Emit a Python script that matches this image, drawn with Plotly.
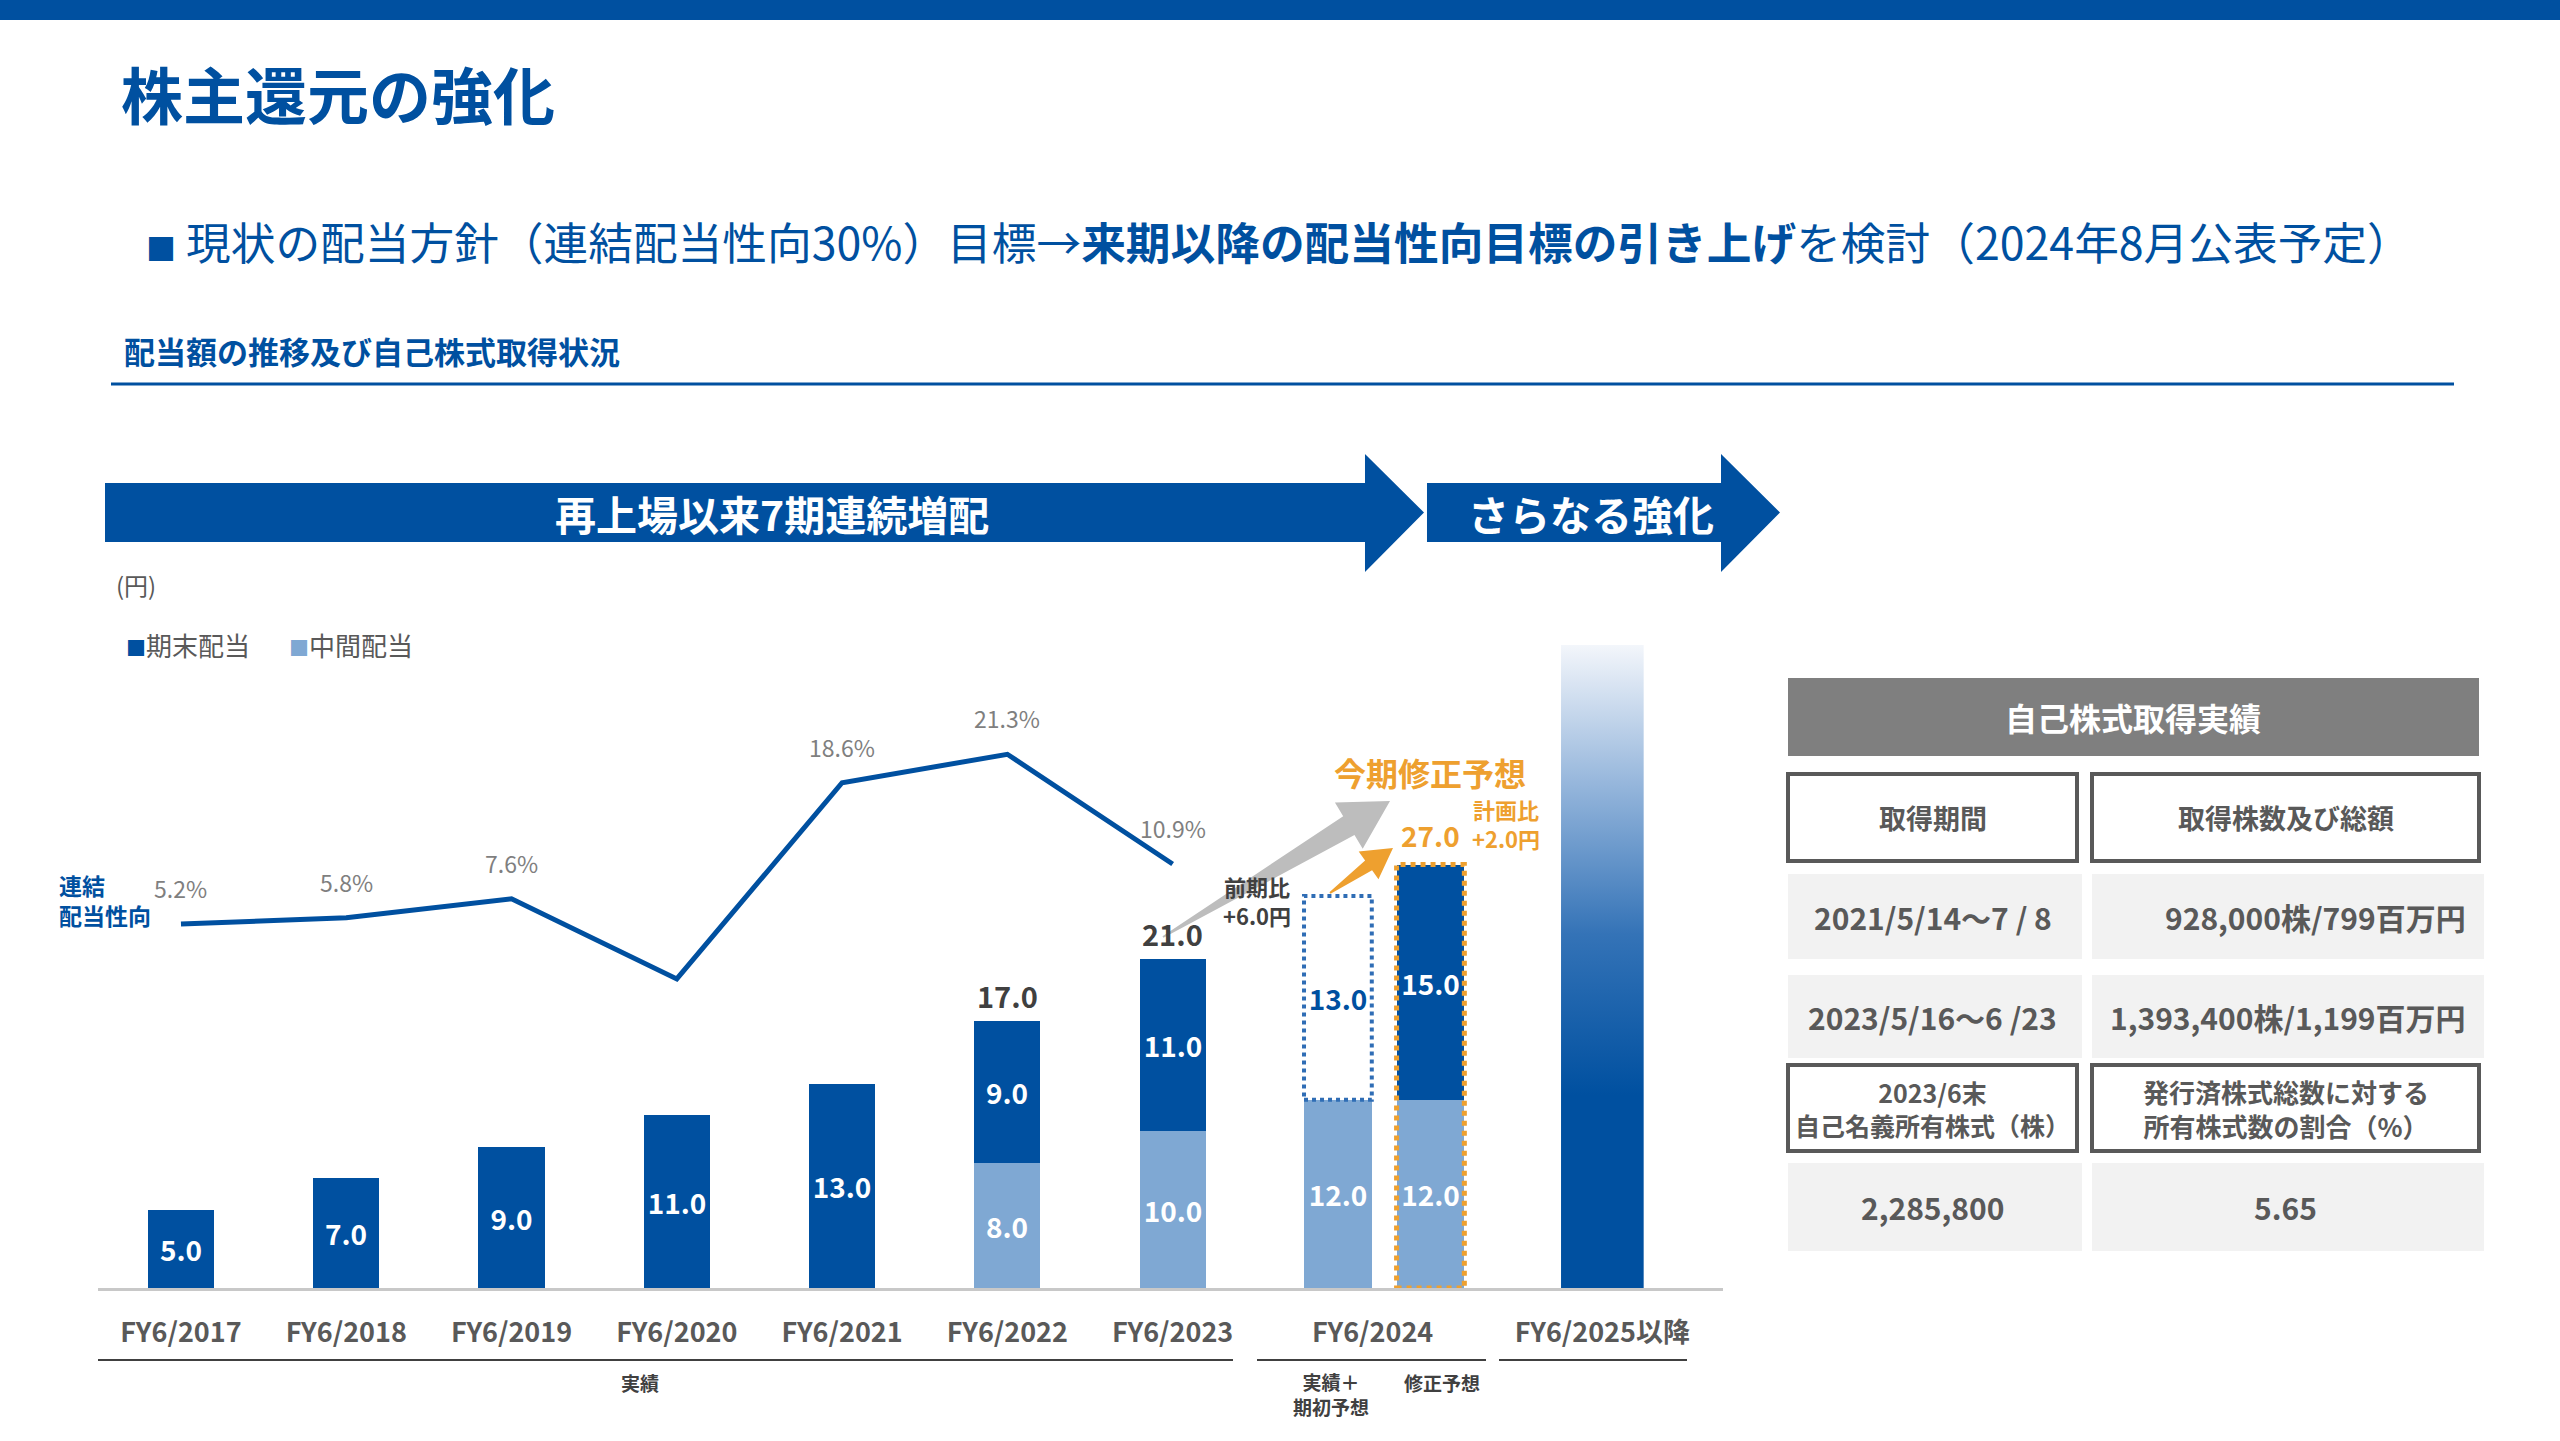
import math

import plotly.graph_objects as go

W, H = 2560, 1441
FONT = "Noto Sans CJK JP, Noto Sans, sans-serif"
BLUE = "#0050a0"
LIGHT = "#7fa8d3"
ORANGE = "#eea02f"
GRAY_TXT = "#595959"
DARK_TXT = "#404040"

# ---- data ----
years = ["FY6/2017", "FY6/2018", "FY6/2019", "FY6/2020", "FY6/2021", "FY6/2022", "FY6/2023"]
interim = [0, 0, 0, 0, 0, 8.0, 10.0]          # 中間配当
year_end = [5.0, 7.0, 9.0, 11.0, 13.0, 9.0, 11.0]  # 期末配当
payout = [5.2, 5.8, 7.6, 0.0, 18.6, 21.3, 10.9]    # 連結配当性向 (%)
payout_labels = ["5.2%", "5.8%", "7.6%", "", "18.6%", "21.3%", "10.9%"]

fy24_label = "FY6/2024"
fy24_interim = [12.0, 12.0]      # 実績+期初予想 / 修正予想
fy24_plan_end = 13.0             # 期初予想 期末
fy24_revised_end = 15.0          # 修正予想 期末
future_label = "FY6/2025以降"
future_bar = 41.0                # illustrative bar

table_title = "自己株式取得実績"
table_head = ["取得期間", "取得株数及び総額"]
table_rows = [["2021/5/14～7 / 8", "928,000株/799百万円"],
              ["2023/5/16～6 /23", "1,393,400株/1,199百万円"]]
holding_head = ["2023/6末<br>自己名義所有株式（株）", "発行済株式総数に対する<br>所有株式数の割合（%）"]
holding_vals = ["2,285,800", "5.65"]

# ---- positions (layout only) ----
x_pos = list(range(len(years)))
fy24_pos = [7.0, 7.56]
future_pos = 8.6
bar_w = 0.4
fy24_w = 0.41
future_w = 0.5


def px(x):
    return x / W


def py(y):
    return 1 - y / H


def fmt(v):
    return f"{v:.1f}" if v else ""


fig = go.Figure()

# interim (light blue)
fig.add_trace(go.Bar(
    x=x_pos + fy24_pos, y=interim + fy24_interim,
    width=[bar_w] * len(years) + [fy24_w] * 2,
    marker=dict(color=LIGHT, line=dict(width=0)),
    text=[fmt(v) for v in interim + fy24_interim],
    textposition="inside", insidetextanchor="middle", textangle=0,
    constraintext="none",
    textfont=dict(color="white", size=28, family=FONT, weight="bold"),
    name="中間配当",
))
# year-end (dark blue)
fig.add_trace(go.Bar(
    x=x_pos + [fy24_pos[1]], y=year_end + [fy24_revised_end],
    width=[bar_w] * len(years) + [fy24_w],
    marker=dict(color=BLUE, line=dict(width=0)),
    text=[fmt(v) for v in year_end + [fy24_revised_end]],
    textposition="inside", insidetextanchor="middle", textangle=0,
    constraintext="none",
    textfont=dict(color="white", size=28, family=FONT, weight="bold"),
    name="期末配当",
))
# initial plan year-end (white box)
fig.add_trace(go.Bar(
    x=[fy24_pos[0]], y=[fy24_plan_end], width=[fy24_w],
    marker=dict(color="white", line=dict(width=0)),
    text=[fmt(fy24_plan_end)],
    textposition="inside", insidetextanchor="middle", textangle=0,
    constraintext="none",
    textfont=dict(color=BLUE, size=28, family=FONT, weight="bold"),
    name="期初予想",
))
# future gradient bar
fig.add_trace(go.Scatter(
    x=[future_pos - future_w / 2, future_pos + future_w / 2, future_pos + future_w / 2,
       future_pos - future_w / 2, future_pos - future_w / 2],
    y=[0, 0, future_bar, future_bar, 0],
    mode="lines", fill="toself", line=dict(width=0, color="rgba(0,0,0,0)"),
    fillgradient=dict(type="vertical", start=0, stop=future_bar,
                      colorscale=[[0, BLUE], [0.3, BLUE], [0.55, "#3473b7"],
                                  [0.78, "#94b5db"], [1, "#f3f6fb"]]),
    hoverinfo="skip",
))
# payout ratio line
fig.add_trace(go.Scatter(
    x=x_pos, y=payout, yaxis="y2", mode="lines",
    line=dict(color=BLUE, width=5), name="連結配当性向",
))

annotations = []
shapes = []


def note(x, y, text, size, color, bold=False, xanchor="center", align="center", **kw):
    if bold:
        text = f"<b>{text}</b>"
    annotations.append(dict(
        x=px(x), y=py(y), xref="paper", yref="paper", text=text, showarrow=False,
        xanchor=xanchor, yanchor="middle", align=align,
        font=dict(size=size, color=color, family=FONT), **kw))


# payout labels
for xi, v, lab in zip(x_pos, payout, payout_labels):
    if lab:
        annotations.append(dict(x=xi, y=v, xref="x", yref="y2", text=lab, showarrow=False,
                                yshift=36, font=dict(size=23, color="#7f7f7f", family=FONT)))
# totals
for xi, a, b in zip(x_pos, interim, year_end):
    if a:
        annotations.append(dict(x=xi, y=a + b, xref="x", yref="y", text=f"<b>{a + b:.1f}</b>",
                                showarrow=False, yshift=26,
                                font=dict(size=29, color=DARK_TXT, family=FONT)))
annotations.append(dict(x=fy24_pos[1], y=fy24_interim[1] + fy24_revised_end, xref="x", yref="y",
                        text=f"<b>{fy24_interim[1] + fy24_revised_end:.1f}</b>", showarrow=False,
                        yshift=30, font=dict(size=28, color=ORANGE, family=FONT)))

# dotted outlines
shapes.append(dict(type="rect", xref="x", yref="y",
                   x0=fy24_pos[0] - fy24_w / 2, x1=fy24_pos[0] + fy24_w / 2,
                   y0=fy24_interim[0], y1=fy24_interim[0] + fy24_plan_end,
                   line=dict(color="#2f6db5", width=4, dash="dot")))
shapes.append(dict(type="rect", xref="x", yref="y",
                   x0=fy24_pos[1] - fy24_w / 2, x1=fy24_pos[1] + fy24_w / 2,
                   y0=0, y1=fy24_interim[1] + fy24_revised_end,
                   line=dict(color=ORANGE, width=5, dash="dot")))

# ---- header decorations ----
shapes.append(dict(type="rect", xref="paper", yref="paper", x0=0, x1=1, y0=py(20), y1=1,
                   fillcolor=BLUE, line=dict(width=0)))
note(119, 93, "株主還元の強化", 62, BLUE, bold=True, xanchor="left")
note(144, 240,
     "<span style='font-size:30px'>■</span> 現状の配当方針（連結配当性向30%）目標→"
     "<b>来期以降の配当性向目標の引き上げ</b>を検討（2024年8月公表予定）",
     44.7, BLUE, xanchor="left")
note(122, 351, "配当額の推移及び自己株式取得状況", 31, BLUE, bold=True, xanchor="left")
shapes.append(dict(type="line", xref="paper", yref="paper", x0=px(111), x1=px(2454),
                   y0=py(384), y1=py(384), line=dict(color=BLUE, width=3)))


def poly(points):
    return "M " + " L ".join(f"{px(x):.5f},{py(y):.5f}" for x, y in points) + " Z"


def block_arrow(x0, x1, head, top, bot, htop, hbot):
    mid = (top + bot) / 2
    return poly([(x0, top), (x1 - head, top), (x1 - head, htop), (x1, mid),
                 (x1 - head, hbot), (x1 - head, bot), (x0, bot)])


shapes.append(dict(type="path", xref="paper", yref="paper", fillcolor=BLUE, line=dict(width=0),
                   path=block_arrow(105, 1424, 59, 483, 542, 454, 572)))
shapes.append(dict(type="path", xref="paper", yref="paper", fillcolor=BLUE, line=dict(width=0),
                   path=block_arrow(1427, 1780, 59, 483, 542, 454, 572)))
note(772, 513, "再上場以来7期連続増配", 41, "white", bold=True)
note(1591, 513, "さらなる強化", 41, "white", bold=True)


def taper_arrow(tail, tip, tail_w, body_w, head_len, head_w):
    (x0, y0), (x1, y1) = tail, tip
    L = math.hypot(x1 - x0, y1 - y0)
    ux, uy = (x1 - x0) / L, (y1 - y0) / L
    nx, ny = -uy, ux
    bx, by = x1 - ux * head_len, y1 - uy * head_len
    return poly([(x0 + nx * tail_w, y0 + ny * tail_w), (bx + nx * body_w, by + ny * body_w),
                 (bx + nx * head_w, by + ny * head_w), (x1, y1),
                 (bx - nx * head_w, by - ny * head_w), (bx - nx * body_w, by - ny * body_w),
                 (x0 - nx * tail_w, y0 - ny * tail_w)])


shapes.append(dict(type="path", xref="paper", yref="paper", fillcolor="#bdbdbd", line=dict(width=0),
                   path=taper_arrow((1163, 937), (1390, 801), 1, 11, 48, 27)))
shapes.append(dict(type="path", xref="paper", yref="paper", fillcolor=ORANGE, line=dict(width=0),
                   path=taper_arrow((1330, 893), (1393, 848), 1, 6, 30, 17)))

note(114, 585, "(円)", 24, GRAY_TXT, xanchor="left")
note(124, 645, f"<span style='color:{BLUE};font-size:20px'>■</span>期末配当", 26, GRAY_TXT, xanchor="left")
note(287, 645, f"<span style='color:{LIGHT};font-size:20px'>■</span>中間配当", 26, GRAY_TXT, xanchor="left")
note(57, 900, "連結<br>配当性向", 23, BLUE, bold=True, xanchor="left", align="left")

note(1430, 772, "今期修正予想", 32, ORANGE, bold=True)
note(1506, 823, "計画比<br>+2.0円", 22, ORANGE, bold=True)
note(1257, 900, "前期比<br>+6.0円", 22, DARK_TXT, bold=True)

# group underlines and labels
for a, b in [(98, 1233), (1257, 1486), (1499, 1687)]:
    shapes.append(dict(type="line", xref="paper", yref="paper", x0=px(a), x1=px(b),
                       y0=py(1360), y1=py(1360), line=dict(color=DARK_TXT, width=2)))
note(640, 1382, "実績", 19, DARK_TXT, bold=True)
note(1331, 1394, "実績＋<br>期初予想", 19, DARK_TXT, bold=True)
note(1442, 1382, "修正予想", 19, DARK_TXT, bold=True)

# ---- table ----
colA, colB = (1788, 2077), (2092, 2479)
shapes.append(dict(type="rect", xref="paper", yref="paper", x0=px(1788), x1=px(2479),
                   y0=py(756), y1=py(678), fillcolor="#7f7f7f", line=dict(width=0)))
note(2133, 717, table_title, 32, "white", bold=True)


def cell(col, y0, y1, bordered):
    x1 = col[1] if bordered else col[1] + 5
    shapes.append(dict(type="rect", xref="paper", yref="paper", x0=px(col[0]), x1=px(x1),
                       y0=py(y1), y1=py(y0),
                       fillcolor="white" if bordered else "#f2f2f2",
                       line=dict(color=GRAY_TXT, width=4) if bordered else dict(width=0)))


row_y = [(774, 861), (874, 959), (975, 1058), (1065, 1151), (1163, 1251)]
for i, (y0, y1) in enumerate(row_y):
    bordered = i in (0, 3)
    cell(colA, y0, y1, bordered)
    cell(colB, y0, y1, bordered)

ya, yb = row_y[0]
note(sum(colA) / 2, (ya + yb) / 2, table_head[0], 27, GRAY_TXT, bold=True)
note(sum(colB) / 2, (ya + yb) / 2, table_head[1], 27, GRAY_TXT, bold=True)
for (y0, y1), (a, b) in zip(row_y[1:3], table_rows):
    note(sum(colA) / 2, (y0 + y1) / 2, a, 30, GRAY_TXT, bold=True)
    note(2468, (y0 + y1) / 2, b, 30, GRAY_TXT, bold=True, xanchor="right")
y0, y1 = row_y[3]
note(sum(colA) / 2, (y0 + y1) / 2, holding_head[0], 25, GRAY_TXT, bold=True)
note(sum(colB) / 2, (y0 + y1) / 2, holding_head[1], 26, GRAY_TXT, bold=True)
y0, y1 = row_y[4]
note(sum(colA) / 2, (y0 + y1) / 2, holding_vals[0], 30, GRAY_TXT, bold=True)
note(sum(colB) / 2, (y0 + y1) / 2, holding_vals[1], 30, GRAY_TXT, bold=True)

fig.update_layout(
    width=W, height=H,
    margin=dict(l=0, r=0, t=0, b=0),
    paper_bgcolor="white", plot_bgcolor="white",
    font=dict(family=FONT),
    barmode="stack", bargap=0, showlegend=False,
    xaxis=dict(domain=[px(98), px(1723)], range=[-0.502, 9.33],
               showgrid=False, zeroline=False, showline=True, linecolor="#c8c8c8", linewidth=3,
               ticks="", tickvals=x_pos + [7.21, future_pos],
               ticktext=[f"<b>{t}</b>" for t in years + [fy24_label, future_label]],
               tickfont=dict(size=27, color=GRAY_TXT, family=FONT),
               ticklabelstandoff=19),
    yaxis=dict(domain=[py(1288), py(645)], range=[0, 41.0], visible=False, showgrid=False),
    yaxis2=dict(overlaying="y", range=[-29.3, 31.66], visible=False, showgrid=False),
    annotations=annotations,
    shapes=shapes,
)

fig.write_html("out.html", config={"displayModeBar": False},
               post_script="document.body.style.margin='0';document.body.style.overflow='hidden';")
